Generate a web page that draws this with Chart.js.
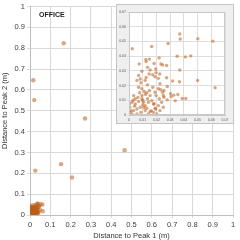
<!DOCTYPE html>
<html>
<head>
<meta charset="utf-8">
<script src="https://cdn.jsdelivr.net/npm/chart.js@4"></script>
<style>
  body { margin: 0; background: #fff; }
  #wrap { position: relative; width: 240px; height: 240px; }
  #main { position: absolute; left: 0; top: 0; }
  #inset { position: absolute; left: 116px; top: 4px; width: 118px; height: 120px;
           background: #efefef; border: 1px solid #c4c4c4; box-sizing: border-box; }
  #office { position: absolute; left: 39px; top: 11px; font: bold 7px "Liberation Sans", Arial, sans-serif; color: #222; }
</style>
</head>
<body>
<div id="wrap">
  <canvas id="main" width="240" height="240"></canvas>
  <div id="office">OFFICE</div>
  <div id="inset"><canvas id="zoom" width="116" height="118"></canvas></div>
</div>
<script>
// distance to peak 1 / peak 2 (m), points near the origin
const clusterPeak1 = [
  0.0024, 0.0165, 0.0370, 0.0373, 0.0285, 0.0502, 0.0611, 0.0351, 0.0411, 0.0450,
  0.0370, 0.0500, 0.0628, 0.0318, 0.0368, 0.0274, 0.0279, 0.0327, 0.0356, 0.0388,
  0.0414, 0.0337, 0.0308, 0.0303, 0.0255, 0.0231, 0.0250, 0.0279, 0.0183, 0.0195,
  0.0163, 0.0074, 0.0149, 0.0125, 0.0183, 0.0220, 0.0233, 0.0245, 0.0274, 0.0094,
  0.0154, 0.0147, 0.0173, 0.0197, 0.0224, 0.0070, 0.0125, 0.0190, 0.0214, 0.0082,
  0.0135, 0.0195, 0.0123,
  0.0058, 0.0087, 0.0118, 0.0135, 0.0070, 0.0094, 0.0111, 0.0077, 0.0130, 0.0149,
  0.0154, 0.0190, 0.0197, 0.0214, 0.0226, 0.0245, 0.0255, 0.0034, 0.0022, 0.0046,
  0.0070, 0.0094, 0.0106, 0.0118, 0.0082, 0.0058, 0.0034, 0.0010, 0.0022, 0.0058,
  0.0087, 0.0118, 0.0130, 0.0101, 0.0142, 0.0166, 0.0178, 0.0190, 0.0214, 0.0226,
  0.0154, 0.0142, 0.0178, 0.0202, 0.0005, 0.0003, 0.0046, 0.0094, 0.0173, 0.0135,
  0.0238, 0.0250, 0.0221, 0.0040, 0.0065, 0.0100, 0.0120, 0.0015, 0.0030, 0.0110
];
const clusterPeak2 = [
  0.0450, 0.0466, 0.0550, 0.0516, 0.0486, 0.0518, 0.0502, 0.0399, 0.0395, 0.0402,
  0.0306, 0.0235, 0.0185, 0.0231, 0.0226, 0.0253, 0.0194, 0.0135, 0.0139, 0.0112,
  0.0112, 0.0096, 0.0125, 0.0144, 0.0167, 0.0172, 0.0133, 0.0103, 0.0076, 0.0041,
  0.0030, 0.0347, 0.0380, 0.0363, 0.0350, 0.0388, 0.0347, 0.0340, 0.0336, 0.0297,
  0.0306, 0.0279, 0.0274, 0.0288, 0.0279, 0.0269, 0.0255, 0.0260, 0.0249, 0.0245,
  0.0324, 0.0313, 0.0377,
  0.0235, 0.0219, 0.0235, 0.0205, 0.0189, 0.0178, 0.0160, 0.0151, 0.0151, 0.0167,
  0.0132, 0.0155, 0.0132, 0.0178, 0.0212, 0.0155, 0.0121, 0.0132, 0.0087, 0.0075,
  0.0091, 0.0110, 0.0087, 0.0064, 0.0053, 0.0041, 0.0030, 0.0018, 0.0005, 0.0007,
  0.0018, 0.0030, 0.0046, 0.0068, 0.0087, 0.0098, 0.0075, 0.0046, 0.0064, 0.0030,
  0.0023, 0.0007, 0.0018, 0.0007, 0.0053, 0.0075, 0.0110, 0.0132, 0.0189, 0.0110,
  0.0087, 0.0053, 0.0110, 0.0060, 0.0120, 0.0100, 0.0140, 0.0030, 0.0100, 0.0050
];
// points far from the origin
const outlierPeak1 = [0.016, 0.021, 0.166, 0.271, 0.026, 0.153, 0.207, 0.466];
const outlierPeak2 = [0.646, 0.551, 0.824, 0.463, 0.213, 0.244, 0.180, 0.311];

const mainTicks = ['0', '0.1', '0.2', '0.3', '0.4', '0.5', '0.6', '0.7', '0.8', '0.9', '1'];
const insetTicks = ['0', '0.01', '0.02', '0.03', '0.04', '0.05', '0.06', '0.07'];

const dotColor = 'rgba(185, 95, 25, 0.55)';

function toPoints(xs, ys) {
  return xs.map((x, i) => ({ x: x, y: ys[i] }));
}

const plotBg = {
  id: 'plotBg',
  beforeDraw(chart, args, opts) {
    if (!opts.fill) return;
    const a = chart.chartArea, c = chart.ctx;
    c.save();
    c.fillStyle = opts.fill;
    c.fillRect(a.left, a.top, a.right - a.left, a.bottom - a.top);
    c.restore();
  },
  afterDraw(chart, args, opts) {
    if (!opts.frame) return;
    const a = chart.chartArea, c = chart.ctx;
    c.save();
    c.strokeStyle = opts.frame;
    c.lineWidth = 1;
    c.strokeRect(a.left + 0.5, a.top + 0.5, a.right - a.left - 1, a.bottom - a.top - 1);
    c.restore();
  }
};

const font = { family: '"Liberation Sans", Arial, sans-serif' };

new Chart(document.getElementById('main'), {
  type: 'scatter',
  data: {
    datasets: [{
      data: toPoints(clusterPeak1, clusterPeak2).concat(toPoints(outlierPeak1, outlierPeak2)),
      backgroundColor: dotColor,
      borderWidth: 0,
      pointRadius: 2.2
    }]
  },
  plugins: [plotBg],
  options: {
    responsive: false,
    animation: false,
    devicePixelRatio: 1,
    layout: { padding: { top: 5, right: 7, left: 0, bottom: 0 } },
    plugins: { legend: { display: false }, tooltip: { enabled: false }, plotBg: {} },
    scales: {
      x: {
        type: 'linear', min: 0, max: 1,
        afterFit: s => { s.height = 25; },
        grid: { color: '#d9d9d9', tickLength: 3 },
        border: { color: '#bfbfbf' },
        ticks: {
          stepSize: 0.1, autoSkip: false, maxRotation: 0, padding: 2,
          color: '#404040', font: Object.assign({ size: 7.5 }, font),
          callback: (v) => mainTicks[Math.round(v * 10)]
        },
        title: { display: true, text: 'Distance to Peak 1 (m)', color: '#333',
                 font: Object.assign({ size: 7.5 }, font), padding: { top: 1, bottom: 0 } }
      },
      y: {
        type: 'linear', min: 0, max: 1,
        afterFit: s => { s.width = 30; },
        grid: { color: '#d9d9d9', tickLength: 3 },
        border: { color: '#bfbfbf' },
        ticks: {
          stepSize: 0.1, autoSkip: false, padding: 2,
          color: '#404040', font: Object.assign({ size: 7.5 }, font),
          callback: (v) => mainTicks[Math.round(v * 10)]
        },
        title: { display: true, text: 'Distance to Peak 2 (m)', color: '#333',
                 font: Object.assign({ size: 7.5 }, font), padding: { top: 0, bottom: 1 } }
      }
    }
  }
});

new Chart(document.getElementById('zoom'), {
  type: 'scatter',
  data: {
    datasets: [{
      data: toPoints(clusterPeak1, clusterPeak2),
      backgroundColor: dotColor,
      borderWidth: 0,
      pointRadius: 1.7
    }]
  },
  plugins: [plotBg],
  options: {
    responsive: false,
    animation: false,
    devicePixelRatio: 1,
    layout: { padding: { top: 7, right: 8, left: 0, bottom: 0 } },
    plugins: { legend: { display: false }, tooltip: { enabled: false },
               plotBg: { fill: '#ffffff', frame: '#c8c8c8' } },
    scales: {
      x: {
        type: 'linear', min: 0, max: 0.07,
        afterFit: s => { s.height = 8; },
        grid: { color: '#dedede', tickLength: 2 },
        border: { color: '#c8c8c8' },
        ticks: {
          stepSize: 0.01, autoSkip: false, maxRotation: 0, padding: 1,
          color: '#555', font: Object.assign({ size: 3.5 }, font),
          callback: (v) => insetTicks[Math.round(v * 100)]
        }
      },
      y: {
        type: 'linear', min: 0, max: 0.07,
        afterFit: s => { s.width = 12; },
        grid: { color: '#dedede', tickLength: 2 },
        border: { color: '#c8c8c8' },
        ticks: {
          stepSize: 0.01, autoSkip: false, padding: 1,
          color: '#555', font: Object.assign({ size: 3.5 }, font),
          callback: (v) => insetTicks[Math.round(v * 100)]
        }
      }
    }
  }
});
</script>
</body>
</html>
